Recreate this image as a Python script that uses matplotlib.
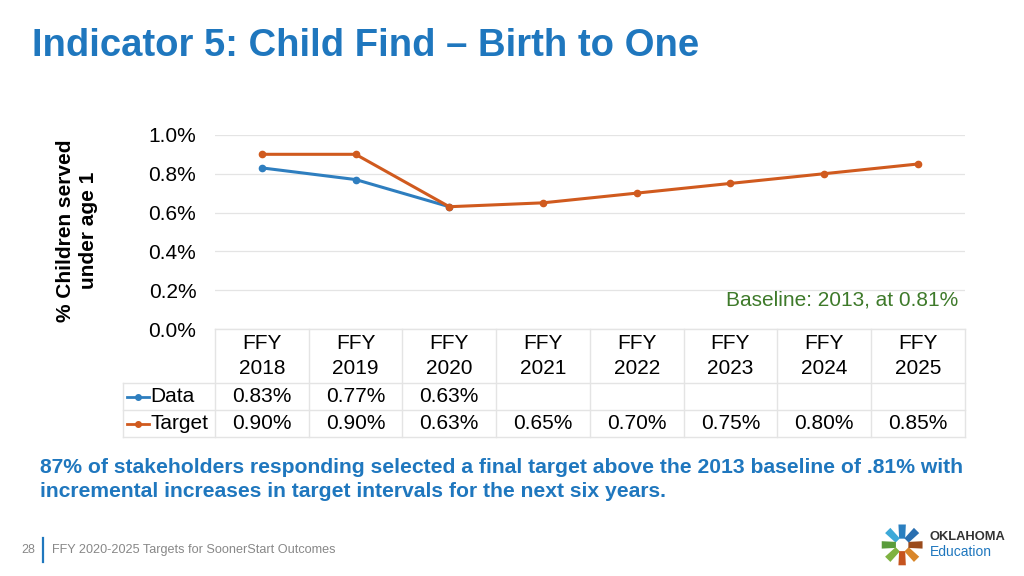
import numpy as np
import matplotlib
matplotlib.use("Agg")
import matplotlib.pyplot as plt
from matplotlib.lines import Line2D
from matplotlib.patches import Polygon
import matplotlib.transforms as mtransforms

plt.rcParams['font.family'] = ['Liberation Sans', 'DejaVu Sans']

# data
years = ["FFY\n2018", "FFY\n2019", "FFY\n2020", "FFY\n2021",
         "FFY\n2022", "FFY\n2023", "FFY\n2024", "FFY\n2025"]
data_vals = [0.83, 0.77, 0.63]
target_vals = [0.90, 0.90, 0.63, 0.65, 0.70, 0.75, 0.80, 0.85]
yticks = [0.0, 0.2, 0.4, 0.6, 0.8, 1.0]

BLUE = "#2e7ebf"
ORANGE = "#d05a1e"
TITLE_BLUE = "#1f77be"
GRID = "#e4e4e4"
FS = 15

fig = plt.figure(figsize=(10.24, 5.76), dpi=100)
ax = fig.add_axes([0.21, 0.4288, 0.732, 0.337])

x = np.arange(len(years))
ax.plot(x[:len(data_vals)], data_vals, color=BLUE, lw=2.2, marker="o", ms=4.5)
ax.plot(x, target_vals, color=ORANGE, lw=2.2, marker="o", ms=4.5)

ax.set_xlim(-0.5, len(years) - 0.5)
ax.set_ylim(0, 1.0)
ax.set_yticks(yticks)
ax.set_yticklabels([f"{v:.1f}%" for v in yticks], fontsize=FS)
ax.set_xticks([])
ax.tick_params(axis="y", length=0, pad=13.5)
for s in ax.spines.values():
    s.set_visible(False)
ax.grid(axis="y", color=GRID, lw=0.9)
ax.set_axisbelow(True)

ax.text(0.992, 0.2, "Baseline: 2013, at 0.81%", transform=ax.transAxes,
        ha="right", va="top", fontsize=FS, color="#3e7a2a")

# data table under the chart
tr = mtransforms.blended_transform_factory(ax.transData, ax.transAxes)
h_head = 54 / 194
h_row = 27 / 194
y_head = -h_head
y_data = y_head - h_row
y_targ = y_data - h_row
left = -1.48
kw = dict(transform=tr, clip_on=False, color=GRID, lw=1)
for y in [0, y_head, y_data]:
    ax.add_line(Line2D([-0.5 if y == 0 else left, 7.5], [y, y], **kw))
ax.add_line(Line2D([left, 7.5], [y_targ, y_targ], **kw))
for i in range(len(years) + 1):
    ax.add_line(Line2D([i - 0.5, i - 0.5], [0, y_targ], **kw))
ax.add_line(Line2D([left, left], [y_head, y_targ], **kw))

for i, lab in enumerate(years):
    ax.text(i, y_head / 2, lab, transform=tr, ha="center", va="center",
            fontsize=FS, linespacing=1.35)
for i, v in enumerate(data_vals):
    ax.text(i, (y_head + y_data) / 2, f"{v:.2f}%", transform=tr,
            ha="center", va="center", fontsize=FS)
for i, v in enumerate(target_vals):
    ax.text(i, (y_data + y_targ) / 2, f"{v:.2f}%", transform=tr,
            ha="center", va="center", fontsize=FS)

for name, col, yc in [("Data", BLUE, (y_head + y_data) / 2),
                      ("Target", ORANGE, (y_data + y_targ) / 2)]:
    ax.add_line(Line2D([left + 0.04, left + 0.27], [yc, yc], transform=tr,
                       clip_on=False, color=col, lw=2))
    ax.plot([left + 0.155], [yc], transform=tr, clip_on=False,
            marker="o", color=col, ms=4)
    ax.text(left + 0.29, yc, name, transform=tr, ha="left", va="center",
            fontsize=FS)

# y label
fig.text(0.075, 0.60, "% Children served\nunder age 1", rotation=90,
         ha="center", va="center", fontsize=FS, fontweight="bold",
         linespacing=1.25)

# title
fig.text(0.031, 0.921, "Indicator 5: Child Find \u2013 Birth to One",
         fontsize=27.5, fontweight="bold", color=TITLE_BLUE,
         ha="left", va="center")

# bottom note
fig.text(0.039, 0.168,
         "87% of stakeholders responding selected a final target above the 2013 baseline of .81% with\n"
         "incremental increases in target intervals for the next six years.",
         fontsize=15.2, fontweight="bold", color=TITLE_BLUE, ha="left",
         va="center", linespacing=1.32)

# footer
fig.text(0.021, 0.045, "28", fontsize=9, color="#888888", ha="left", va="center")
fig.add_artist(Line2D([0.042, 0.042], [0.024, 0.066], transform=fig.transFigure,
                      color=TITLE_BLUE, lw=1.6))
fig.text(0.051, 0.045, "FFY 2020-2025 Targets for SoonerStart Outcomes",
         fontsize=9.1, color="#888888", ha="left", va="center")

# logo
cx, cy = 0.881, 0.054
cols = ["#2a7fc0", "#3da9d8", "#5a9c3c", "#7fb241", "#c6541f", "#d9862a", "#9a4b1c", "#2a6fb0"]
for k in range(8):
    a = np.pi / 2 + k * 2 * np.pi / 8
    r0, r1 = 0.012, 0.036
    pts = [(cx + r0 * np.cos(a - 0.45) * 0.5625, cy + r0 * np.sin(a - 0.45)),
           (cx + r1 * np.cos(a - 0.18) * 0.5625, cy + r1 * np.sin(a - 0.18)),
           (cx + r1 * np.cos(a + 0.18) * 0.5625, cy + r1 * np.sin(a + 0.18)),
           (cx + r0 * np.cos(a + 0.45) * 0.5625, cy + r0 * np.sin(a + 0.45))]
    fig.add_artist(Polygon(pts, closed=True, transform=fig.transFigure,
                           color=cols[k], lw=0))
fig.text(0.908, 0.068, "OKLAHOMA", fontsize=9.3, fontweight="bold",
         color="#333333", ha="left", va="center")
fig.text(0.908, 0.042, "Education", fontsize=10, color=TITLE_BLUE,
         ha="left", va="center")

fig.savefig("out.png", dpi=100)
